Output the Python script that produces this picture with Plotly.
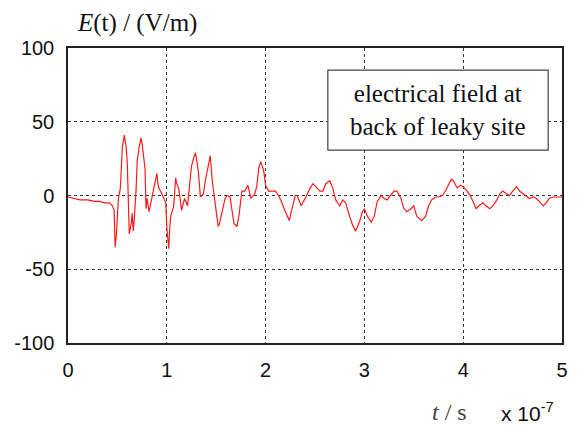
import plotly.graph_objects as go

# Time axis in units of 1e-7 s, field in V/m
t = [0.00, 0.07, 0.12, 0.20, 0.27, 0.32, 0.37, 0.42, 0.45, 0.467, 0.477, 0.49,
     0.51, 0.53, 0.55, 0.57, 0.59, 0.60, 0.61, 0.62, 0.64, 0.65, 0.66, 0.67,
     0.69, 0.70, 0.72, 0.74, 0.75, 0.76, 0.78, 0.79, 0.80, 0.82, 0.84, 0.85,
     0.87, 0.90, 0.91, 0.92, 0.95, 0.99, 1.00, 1.02, 1.03, 1.04, 1.07, 1.09,
     1.10, 1.12, 1.15, 1.18, 1.21, 1.24, 1.25, 1.27, 1.29, 1.30, 1.32, 1.34,
     1.37, 1.39, 1.41, 1.43, 1.44, 1.46, 1.48, 1.50, 1.52, 1.53, 1.56, 1.59,
     1.61, 1.64, 1.68, 1.71, 1.73, 1.76, 1.79, 1.82, 1.85, 1.89, 1.91, 1.93,
     1.95, 1.98, 2.00, 2.03, 2.06, 2.10, 2.13, 2.16, 2.20, 2.24, 2.26, 2.30,
     2.32, 2.36, 2.40, 2.45, 2.48, 2.51, 2.55, 2.58, 2.61, 2.65, 2.68, 2.71,
     2.75, 2.78, 2.81, 2.85, 2.88, 2.91, 2.95, 2.98, 3.00, 3.03, 3.07, 3.10,
     3.13, 3.17, 3.20, 3.23, 3.27, 3.30, 3.33, 3.37, 3.40, 3.43, 3.47, 3.50,
     3.53, 3.58, 3.62, 3.65, 3.68, 3.72, 3.75, 3.79, 3.82, 3.85, 3.88, 3.90,
     3.94, 3.97, 4.00, 4.04, 4.07, 4.10, 4.13, 4.16, 4.20, 4.23, 4.27, 4.30,
     4.34, 4.37, 4.40, 4.44, 4.47, 4.50, 4.54, 4.57, 4.61, 4.64, 4.67, 4.71,
     4.74, 4.77, 4.81, 4.84, 4.87, 4.91, 4.94, 5.00]

E = [-1, -2, -3, -3, -4, -4, -5, -5, -7, -10, -35, -26,
     -2, 5, 33, 41, 32, 22, -2, -26, -19, -12, -24, -17,
     5, 23, 33, 39, 35, 30, 18, -9, -2, -11, -5, 0,
     5, 15, 8, 5, 1, -5, -22, -36, -22, -14, -7, 12,
     8, 5, -10, -2, -7, 12, 20, 25, 29, 25, 16, -1,
     1, 10, 18, 24, 27, 10, -1, -12, -21, -20, -10, -2,
     0, -1, -19, -21, -14, 3, 3, 7, -2, 1, 6, 18,
     23, 17, 7, 3, 3, 3, 0, -4, -11, -17, -11, 0,
     0, -7, -2, 5, 8, 6, 3, 3, 8, 10, 5, -3,
     -7, -3, -5, -14, -20, -24, -18, -11, -9, -14, -18, -14,
     -4, 0, -2, -3, 0, 3, 3, -2, -9, -11, -9, -7,
     -14, -17, -14, -7, -3, -1, -1, 0, 3, 7, 11, 10,
     5, 7, 6, 3, 0, -4, -9, -7, -5, -7, -9, -7,
     -3, 1, 3, 1, 0, 3, 6, 3, 1, -1, -2, -1,
     -2, -4, -7, -5, -2, -1, -1, -1]

x_ticks = [0, 1, 2, 3, 4, 5]
y_ticks = [-100, -50, 0, 50, 100]

SERIF = "Liberation Serif, Times New Roman, serif"
SANS = "Liberation Sans, Arial, sans-serif"

fig = go.Figure()
fig.add_trace(go.Scatter(x=t, y=E, mode="lines",
                         line=dict(color="#ff1a1a", width=1.2)))

axis_common = dict(
    showline=True, mirror=True, linecolor="#222", linewidth=1.5,
    showgrid=True, gridcolor="#333", gridwidth=1, griddash="3px,3px",
    zeroline=False, ticks="", tickfont=dict(family=SANS, size=20, color="#111"),
)

fig.update_xaxes(range=[0, 5], tickvals=x_ticks, ticktext=[str(v) for v in x_ticks],
                 ticklabelstandoff=8, **axis_common)
fig.update_yaxes(range=[-100, 100], tickvals=y_ticks, ticktext=[str(v) for v in y_ticks],
                 ticklabelstandoff=8, **axis_common)

# Text box inside the plot
fig.add_shape(type="rect", xref="paper", yref="paper",
              x0=0.526, x1=0.972, y0=0.654, y1=0.925,
              line=dict(color="#444", width=1.2), fillcolor="white", layer="above")
fig.add_annotation(xref="paper", yref="paper", x=0.749, y=0.79,
                   xanchor="center", yanchor="middle",
                   text="electrical field at<br>back of leaky site",
                   showarrow=False, align="center",
                   font=dict(family=SERIF, size=25, color="#111"))

# Axis titles
fig.add_annotation(xref="paper", yref="paper", x=0.014, y=1.085,
                   xanchor="left", yanchor="middle",
                   text="<i>E</i>(t) / (V/m)", showarrow=False,
                   font=dict(family=SERIF, size=25, color="#111"))
fig.add_annotation(xref="paper", yref="paper", x=0.812, y=-0.234,
                   xanchor="right", yanchor="middle",
                   text="<i>t</i> / s", showarrow=False,
                   font=dict(family=SERIF, size=24, color="#444"))
fig.add_annotation(xref="paper", yref="paper", x=0.872, y=-0.234,
                   xanchor="left", yanchor="middle",
                   text="x 10<sup>-7</sup>", showarrow=False,
                   font=dict(family=SANS, size=21, color="#111"))

fig.update_layout(
    width=580, height=425,
    margin=dict(l=68, r=14, t=48, b=82),
    paper_bgcolor="white", plot_bgcolor="white",
    showlegend=False,
)

fig.write_html("out.html")
